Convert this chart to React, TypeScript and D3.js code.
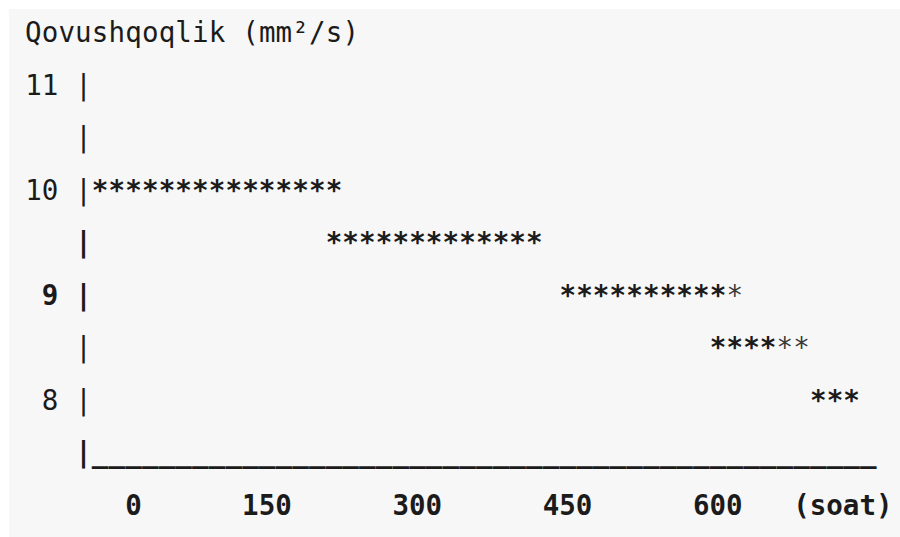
import * as d3 from "d3";

const W = 900;
const H = 537;

// y rows: each half unit of viscosity is one text line
const yTicks = [11, 10, 9, 8];
const boldTicks = [9];
const axisRows = [11, 10.5, 10, 9.5, 9, 8.5, 8, 7.5];
const boldAxisRows = [9.5, 9, 7.5];

// star runs (character columns on the text grid)
const runLevels = [10, 9.5, 9, 8.5, 8];
const runStart = [4, 18, 32, 41, 47];
const runCount = [15, 13, 11, 6, 3];
const runFaint = [0, 0, 1, 2, 0];

// x axis
const xTicks = ["0", "150", "300", "450", "600"];
const xTickCols = [6, 13, 22, 31, 40];
const xUnit = "(soat)";
const xUnitCol = 46;
const baseStart = 4;
const baseEnd = 50;

const title = "Qovushqoqlik (mm²/s)";

const FONT = "'DejaVu Sans Mono', 'Liberation Mono', monospace";
const INK = "#1b1b1b";

export default function App() {
  const col = d3.scaleLinear().domain([0, 1]).range([25, 41.7]);
  const y = d3.scaleLinear().domain([11.5, 7]).range([42, 42 + 9 * 52.5]);

  const stars: { c: number; v: number; faint: boolean }[] = [];
  runLevels.forEach((v, i) => {
    d3.range(runCount[i]).forEach((k) => {
      stars.push({ c: runStart[i] + k, v, faint: k >= runCount[i] - runFaint[i] });
    });
  });

  const underscores = d3.range(baseStart, baseEnd + 1);

  return (
    <svg
      width={W}
      height={H}
      style={{ position: "absolute", left: 0, top: 0 }}
      fontFamily={FONT}
      fontSize={27.5}
      fill={INK}
    >
      <rect x={9} y={9} width={W - 9} height={H - 9} fill="#f7f7f7" />

      <text x={col(0)} y={y(11.5)} textLength={col(title.length) - col(0)} lengthAdjust="spacing">
        {title}
      </text>

      {yTicks.map((t) => (
        <text
          key={t}
          x={col(2)}
          y={y(t)}
          textAnchor="end"
          fontWeight={boldTicks.includes(t) ? "bold" : "normal"}
        >
          {t}
        </text>
      ))}

      {axisRows.map((r) => (
        <text
          key={r}
          x={col(3.5)}
          y={y(r)}
          textAnchor="middle"
          fontWeight={boldAxisRows.includes(r) ? "bold" : "normal"}
        >
          |
        </text>
      ))}

      {stars.map((s, i) => (
        <text
          key={i}
          x={col(s.c + 0.5)}
          y={y(s.v)}
          textAnchor="middle"
          fontWeight={s.faint ? "normal" : "bold"}
          fill={s.faint ? "#3a3a3a" : INK}
        >
          *
        </text>
      ))}

      {underscores.map((c) => (
        <text key={c} x={col(c + 0.5)} y={y(7.5)} textAnchor="middle" fontWeight="bold">
          _
        </text>
      ))}

      {xTicks.map((t, i) => (
        <text key={t} x={col(xTickCols[i])} y={y(7)} fontWeight="bold">
          {t}
        </text>
      ))}
      <text x={col(xUnitCol)} y={y(7)} fontWeight="bold">
        {xUnit}
      </text>
    </svg>
  );
}
